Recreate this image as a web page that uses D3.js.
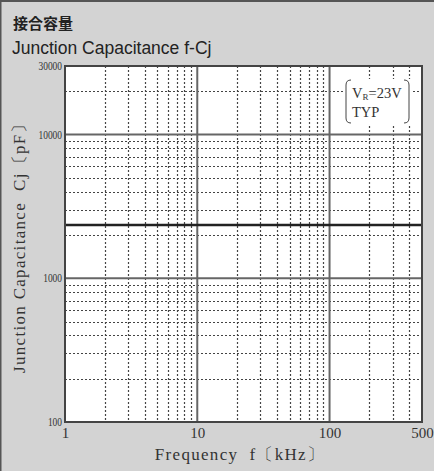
<!DOCTYPE html>
<html><head><meta charset="utf-8">
<script src="https://cdn.jsdelivr.net/npm/d3@7"></script>
<style>body{margin:0;background:#d3d3d3;}svg{display:block;}</style>
</head><body>
<svg id="c" width="434" height="471"></svg>
<script>
const titleJa = "接合容量";
const titleEn = "Junction Capacitance f-Cj";
const xTickValues = [1, 10, 100, 500];
const xTickLabels = ["1", "10", "100", "500"];
const yTickValues = [100, 1000, 10000, 30000];
const yTickLabels = ["100", "1000", "10000", "30000"];
const freq = [1, 500];
const capacitance = [2350, 2350];
const legendLines = ["V_R=23V", "TYP"];

const svg = d3.select("#c");
const W = 434, H = 471;
const m = {l: 65, r: 422, t: 66, b: 422};
const serif = "Liberation Serif, Times New Roman";
svg.append("rect").attr("width", W).attr("height", H).attr("fill", "#d3d3d3");
svg.append("line").attr("x1", 0.5).attr("x2", 0.5).attr("y1", 0).attr("y2", H).attr("stroke", "#555").attr("stroke-width", 2);
svg.append("line").attr("x1", 0).attr("x2", W).attr("y1", 1).attr("y2", 1).attr("stroke", "#555").attr("stroke-width", 2);

svg.append("text").attr("x", 13).attr("y", 29).text(titleJa)
  .attr("font-family", "Noto Sans CJK JP").attr("font-weight", "bold").attr("font-size", 15).attr("fill", "#222");
svg.append("text").attr("x", 12).attr("y", 54).text(titleEn)
  .attr("font-family", "Liberation Sans, Arial").attr("font-size", 17.5).attr("fill", "#222");

const x = d3.scaleLog().domain([1, 500]).range([m.l, m.r]);
const y = d3.scaleLog().domain([100, 30000]).range([m.b, m.t]);

svg.append("rect").attr("x", m.l).attr("y", m.t).attr("width", m.r - m.l).attr("height", m.b - m.t).attr("fill", "#fff");

const minorX = [], minorY = [];
[1, 10, 100].forEach(d => { for (let k = 2; k <= 9; k++) if (d * k < 500) minorX.push(d * k); });
[100, 1000, 10000].forEach(d => { for (let k = 2; k <= 9; k++) if (d * k < 30000) minorY.push(d * k); });

const g = svg.append("g");
g.selectAll(".mx").data(minorX).enter().append("line")
  .attr("x1", d => Math.round(x(d)) + 0.5).attr("x2", d => Math.round(x(d)) + 0.5)
  .attr("y1", m.t).attr("y2", m.b).attr("stroke", "#444").attr("stroke-width", 1.2).attr("stroke-dasharray", "2,2");
g.selectAll(".my").data(minorY).enter().append("line")
  .attr("y1", d => Math.round(y(d)) + 0.5).attr("y2", d => Math.round(y(d)) + 0.5)
  .attr("x1", m.l).attr("x2", m.r).attr("stroke", "#444").attr("stroke-width", 1.2).attr("stroke-dasharray", "2,2");
g.selectAll(".Mx").data([10, 100]).enter().append("line")
  .attr("x1", d => x(d)).attr("x2", d => x(d)).attr("y1", m.t).attr("y2", m.b).attr("stroke", "#666").attr("stroke-width", 2);
g.selectAll(".My").data([1000, 10000]).enter().append("line")
  .attr("y1", d => y(d)).attr("y2", d => y(d)).attr("x1", m.l).attr("x2", m.r).attr("stroke", "#666").attr("stroke-width", 2);

// legend box
svg.append("rect").attr("x", 345).attr("y", 79).attr("width", 66).attr("height", 45).attr("fill", "#fff");
svg.append("path").attr("d", "M351,80 Q346,80 346,85 L346,118 Q346,123 351,123").attr("fill", "none").attr("stroke", "#444").attr("stroke-width", 1);
svg.append("path").attr("d", "M404,80 Q409,80 409,85 L409,118 Q409,123 404,123").attr("fill", "none").attr("stroke", "#444").attr("stroke-width", 1);
const lt = svg.append("text").attr("x", 352).attr("y", 98).attr("font-family", serif).attr("font-size", 14.5).attr("fill", "#333");
lt.append("tspan").text("V");
lt.append("tspan").text("R").attr("font-size", 9).attr("dy", 2);
lt.append("tspan").text("=23V").attr("dy", -2);
svg.append("text").attr("x", 352).attr("y", 117).text(legendLines[1])
  .attr("font-family", serif).attr("font-size", 14.5).attr("fill", "#333");

// data line
svg.append("path").datum(freq.map((f, i) => [f, capacitance[i]]))
  .attr("d", d3.line().x(d => x(d[0])).y(d => y(d[1])))
  .attr("stroke", "#222").attr("stroke-width", 2.5).attr("fill", "none");

// frame
svg.append("rect").attr("x", m.l).attr("y", m.t).attr("width", m.r - m.l).attr("height", m.b - m.t)
  .attr("fill", "none").attr("stroke", "#444").attr("stroke-width", 2);

// axes labels
const xa = svg.append("g").attr("transform", `translate(0,${m.b})`)
  .call(d3.axisBottom(x).tickValues(xTickValues).tickFormat((d, i) => xTickLabels[i]).tickSize(0).tickPadding(5));
xa.select(".domain").remove();
xa.selectAll("text").attr("font-family", serif).attr("font-size", 15).attr("fill", "#333");

const ya = svg.append("g").attr("transform", `translate(${m.l},0)`)
  .call(d3.axisLeft(y).tickValues(yTickValues).tickFormat((d, i) => yTickLabels[i]).tickSize(0).tickPadding(3));
ya.select(".domain").remove();
ya.selectAll("text").attr("font-family", serif).attr("font-size", 11.5).attr("fill", "#333")
  .attr("transform", "scale(0.82,1)").attr("x", -3 / 0.82);

svg.append("text").attr("x", 240).attr("y", 460).attr("text-anchor", "middle")
  .text("Frequency\u00a0\u00a0f〔kHz〕").attr("font-family", serif).attr("font-size", 17)
  .attr("letter-spacing", 1.3).attr("fill", "#333");
svg.append("text").attr("transform", `translate(25,${(m.t + m.b) / 2}) rotate(-90)`).attr("text-anchor", "middle")
  .text("Junction Capacitance\u00a0\u00a0Cj〔pF〕").attr("font-family", serif).attr("font-size", 17)
  .attr("letter-spacing", 1.3).attr("fill", "#333");
</script>
</body></html>
